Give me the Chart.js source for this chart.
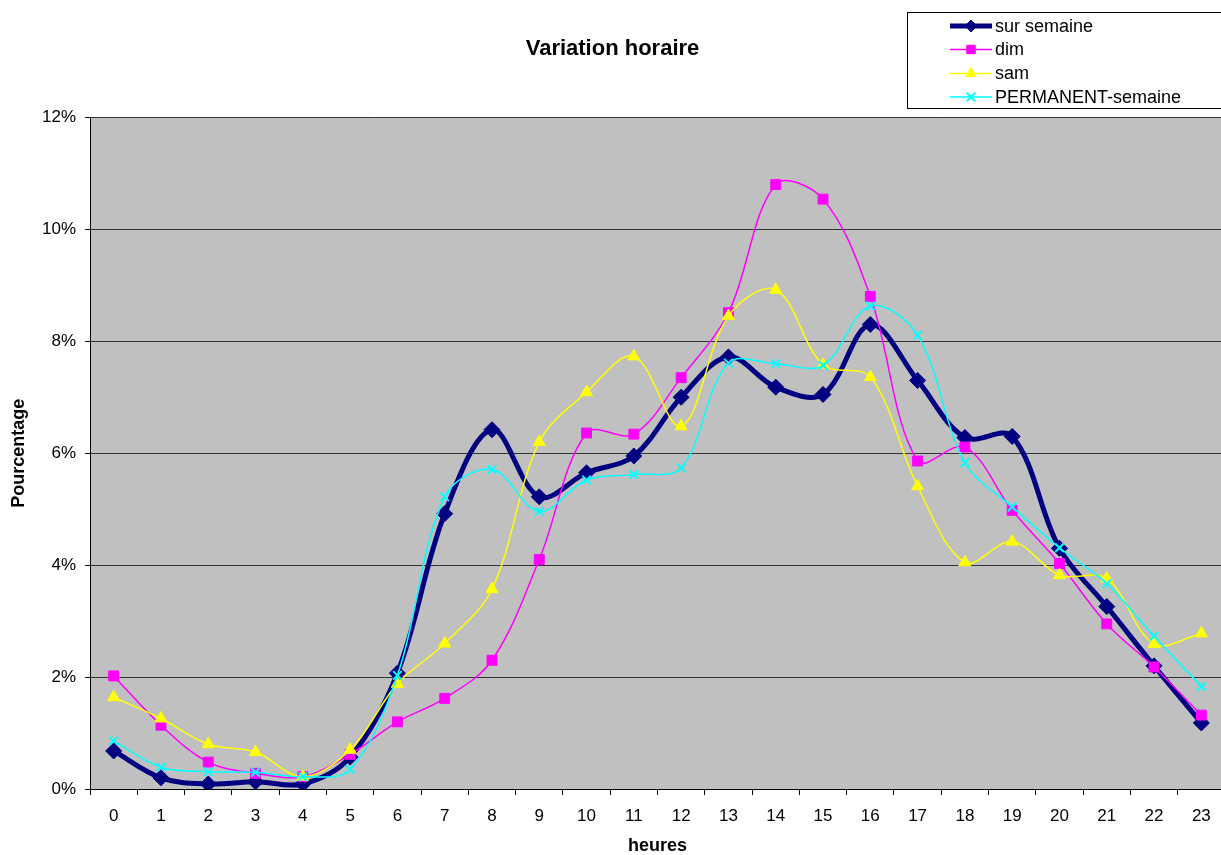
<!DOCTYPE html>
<html lang="fr">
<head>
<meta charset="utf-8">
<title>Variation horaire</title>
<script src="https://cdn.jsdelivr.net/npm/chart.js@4/dist/chart.umd.min.js"></script>
<style>
  html, body { margin: 0; padding: 0; background: #ffffff; overflow: hidden; }
  #wrap { width: 1235px; height: 855px; }
</style>
</head>
<body>
<div id="wrap"><canvas id="chart" width="1235" height="855"></canvas></div>
<script>
// Heures de la journée
const heures = ['0','1','2','3','4','5','6','7','8','9','10','11','12','13','14','15','16','17','18','19','20','21','22','23'];

// Part horaire du trafic (%)
const surSemaine = [0.68, 0.20, 0.09, 0.13, 0.09, 0.57, 2.07, 4.92, 6.42, 5.22, 5.65, 5.95, 7.00, 7.72, 7.18, 7.05, 8.30, 7.30, 6.28, 6.30, 4.30, 3.26, 2.20, 1.18];
const dim        = [2.02, 1.14, 0.48, 0.28, 0.22, 0.62, 1.20, 1.62, 2.30, 4.10, 6.36, 6.34, 7.35, 8.51, 10.80, 10.54, 8.80, 5.86, 6.11, 4.98, 4.03, 2.95, 2.18, 1.32];
const sam        = [1.64, 1.26, 0.80, 0.66, 0.22, 0.70, 1.88, 2.60, 3.57, 6.20, 7.09, 7.73, 6.48, 8.45, 8.92, 7.58, 7.36, 5.41, 4.05, 4.42, 3.82, 3.76, 2.59, 2.78];
const permanent  = [0.86, 0.39, 0.31, 0.30, 0.22, 0.35, 2.03, 5.22, 5.71, 4.96, 5.52, 5.62, 5.74, 7.61, 7.60, 7.57, 8.63, 8.11, 5.83, 5.04, 4.31, 3.67, 2.73, 1.83];

// Graduations de l'axe vertical (%)
const yTicks = [0, 2, 4, 6, 8, 10, 12];

const FONT = "'Liberation Sans', Arial, sans-serif";

// Fond gris de la zone de tracé
const plotBackground = {
  id: 'plotBackground',
  beforeDraw(chart) {
    const { ctx, chartArea: a } = chart;
    ctx.save();
    ctx.fillStyle = '#c0c0c0';
    ctx.fillRect(a.left, a.top, a.right - a.left, a.bottom - a.top);
    ctx.restore();
  }
};

// Légende encadrée en haut à droite
const boxedLegend = {
  id: 'boxedLegend',
  afterDraw(chart) {
    const { ctx } = chart;
    const x0 = 907.5, y0 = 12.5, x1 = 1240, y1 = 108.5;
    const rows = [26, 49.5, 73.5, 97];
    ctx.save();
    ctx.strokeStyle = '#000000';
    ctx.lineWidth = 1;
    ctx.strokeRect(x0, y0, x1 - x0, y1 - y0);
    chart.data.datasets.forEach((ds, i) => {
      const y = rows[i];
      ctx.strokeStyle = ds.borderColor;
      ctx.lineWidth = ds.borderWidth;
      ctx.beginPath();
      ctx.moveTo(950, y);
      ctx.lineTo(992, y);
      ctx.stroke();
      ctx.fillStyle = ds.pointBackgroundColor;
      ctx.strokeStyle = ds.pointBorderColor;
      ctx.lineWidth = ds.pointBorderWidth;
      Chart.helpers.drawPoint(ctx, {
        pointStyle: ds.pointStyle,
        radius: ds.legendRadius,
        rotation: 0,
        borderWidth: ds.pointBorderWidth
      }, 971, y);
      ctx.fillStyle = '#000000';
      ctx.font = '18px ' + FONT;
      ctx.textAlign = 'left';
      ctx.textBaseline = 'middle';
      ctx.fillText(ds.label, 995, y + 1);
    });
    ctx.restore();
  }
};

function serie(label, data, color, width, style, radius, legendRadius, order, borderW) {
  return {
    label, data, order,
    borderColor: color,
    backgroundColor: color,
    borderWidth: width,
    pointStyle: style,
    pointRadius: radius,
    legendRadius: legendRadius,
    pointBackgroundColor: color,
    pointBorderColor: color,
    pointBorderWidth: borderW,
    tension: 0.35,
    fill: false
  };
}

new Chart(document.getElementById('chart'), {
  type: 'line',
  data: {
    labels: heures,
    datasets: [
      serie('sur semaine', surSemaine, '#000080', 5, 'rectRot', 8, 6, 4, 1),
      serie('dim', dim, '#ff00ff', 1.5, 'rect', 7, 6, 3, 1),
      serie('sam', sam, '#ffff00', 1.5, 'triangle', 7, 6, 2, 1),
      serie('PERMANENT-semaine', permanent, '#00ffff', 1.5, 'crossRot', 6, 6, 1, 2)
    ]
  },
  options: {
    responsive: false,
    animation: false,
    events: [],
    layout: { padding: { left: 0, right: 10, top: 0, bottom: 0 } },
    plugins: {
      legend: { display: false },
      tooltip: { enabled: false },
      title: {
        display: true,
        text: 'Variation horaire',
        color: '#000000',
        font: { family: FONT, size: 22, weight: 'bold', lineHeight: 1.2 },
        padding: { top: 36, bottom: 55 }
      }
    },
    scales: {
      x: {
        type: 'category',
        offset: true,
        border: { display: true, color: '#000000', width: 1 },
        grid: { display: true, drawOnChartArea: false, offset: true, tickLength: 6, color: '#000000', tickColor: '#000000' },
        ticks: { color: '#000000', font: { family: FONT, size: 17 }, padding: 11, maxRotation: 0, autoSkip: false },
        title: {
          display: true, text: 'heures', color: '#000000',
          font: { family: FONT, size: 18, weight: 'bold', lineHeight: 1 },
          padding: { top: 0, bottom: 0 }
        },
        afterFit(scale) { scale.height = 66; }
      },
      y: {
        min: 0,
        max: 12,
        border: { display: true, color: '#000000', width: 1 },
        grid: { color: '#333333', lineWidth: 1, tickLength: 5, tickColor: '#000000' },
        afterBuildTicks(scale) { scale.ticks = yTicks.map(v => ({ value: v })); },
        ticks: {
          color: '#000000',
          font: { family: FONT, size: 17 },
          padding: 9,
          callback: v => v + '%'
        },
        title: {
          display: true, text: 'Pourcentage', color: '#000000',
          font: { family: FONT, size: 18, weight: 'bold', lineHeight: 1.2 },
          padding: { top: 8, bottom: 0 }
        },
        afterFit(scale) { scale.width = 90; }
      }
    }
  },
  plugins: [plotBackground, boxedLegend]
});
</script>
</body>
</html>
